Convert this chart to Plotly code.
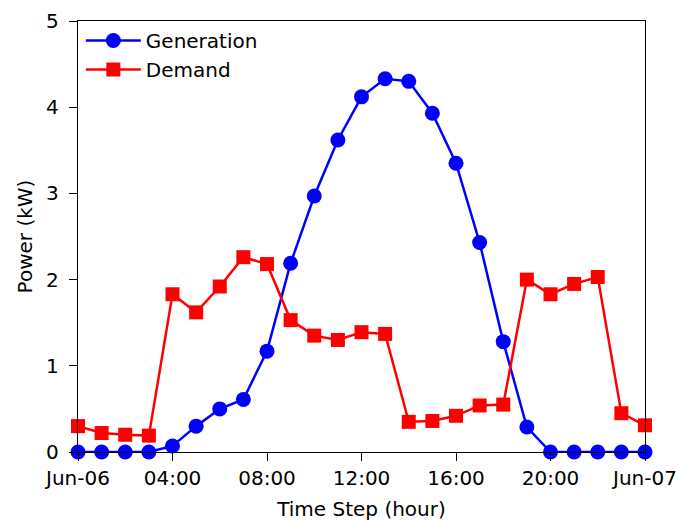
import plotly.graph_objects as go
from datetime import datetime, timedelta

hours = list(range(25))
generation = [0, 0, 0, 0, 0.07, 0.30, 0.50, 0.61, 1.17, 2.19, 2.97, 3.62, 4.12,
              4.33, 4.30, 3.93, 3.35, 2.43, 1.28, 0.29, 0, 0, 0, 0, 0]
demand = [0.30, 0.22, 0.20, 0.19, 1.83, 1.62, 1.92, 2.26, 2.18, 1.53, 1.35, 1.30, 1.39,
          1.37, 0.35, 0.36, 0.42, 0.54, 0.55, 2.00, 1.83, 1.95, 2.03, 0.45, 0.31]
tick_hours = [0, 4, 8, 12, 16, 20, 24]
tick_labels = ["Jun-06", "04:00", "08:00", "12:00", "16:00", "20:00", "Jun-07"]

start = datetime(2023, 6, 6)
times = [start + timedelta(hours=h) for h in hours]
tick_times = [start + timedelta(hours=h) for h in tick_hours]

font = dict(family="DejaVu Sans", size=20, color="black")

fig = go.Figure()
fig.add_trace(go.Scatter(x=times, y=generation, name="Generation", mode="lines+markers",
                         line=dict(color="#0000ff", width=2.5),
                         marker=dict(symbol="circle", size=15, color="#0000ff"),
                         cliponaxis=False))
fig.add_trace(go.Scatter(x=times, y=demand, name="Demand", mode="lines+markers",
                         line=dict(color="#ff0000", width=2.5),
                         marker=dict(symbol="square", size=14, color="#ff0000"),
                         cliponaxis=False))

axis_common = dict(showline=True, linecolor="black", linewidth=1.3, mirror=True,
                   ticks="outside", ticklen=8, tickwidth=1.3, tickcolor="black",
                   showgrid=False, zeroline=False, tickfont=font, automargin=False)
fig.update_xaxes(range=[times[0], times[-1]], tickvals=tick_times, ticktext=tick_labels,
                 title=dict(text="Time Step (hour)", font=font, standoff=13), **axis_common)
fig.update_yaxes(range=[0, 5], tickvals=[0, 1, 2, 3, 4, 5], ticklabelstandoff=6,
                 title=dict(text="Power (kW)", font=font, standoff=8), **axis_common)

fig.update_layout(width=679, height=521, plot_bgcolor="white", paper_bgcolor="white",
                  margin=dict(l=78, r=34, t=21, b=69, autoexpand=False), font=font,
                  legend=dict(x=0.005, y=1.0, xanchor="left", yanchor="top",
                              bgcolor="rgba(0,0,0,0)", font=font, itemwidth=55))
fig.write_html("out.html", config={"displayModeBar": False},
               post_script="document.body.style.margin='0';document.body.style.overflow='hidden';")
